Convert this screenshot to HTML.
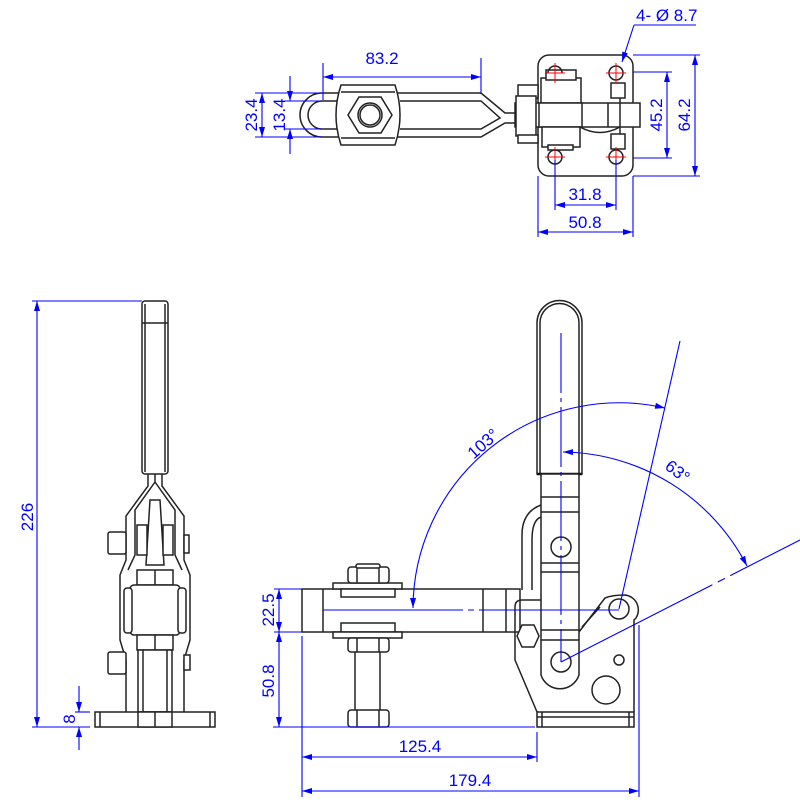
<!DOCTYPE html>
<html><head><meta charset="utf-8"><style>
html,body{margin:0;padding:0;background:#fff}
svg{display:block}
text{font-family:"Liberation Sans",sans-serif;fill:#0000ff;font-size:17px}
.k{fill:none;stroke:#222;stroke-width:1.5}
.kw{fill:#fff;stroke:#222;stroke-width:1.5}
.b{fill:none;stroke:#0000ff;stroke-width:1.1}
.r{stroke:#ff0000;stroke-width:1;fill:none}
</style></head><body>
<svg width="800" height="800" viewBox="0 0 800 800" xmlns="http://www.w3.org/2000/svg">
<defs>
<marker id="a" viewBox="0 0 10 6" refX="10" refY="3" markerWidth="10" markerHeight="6" orient="auto-start-reverse" markerUnits="userSpaceOnUse"><path d="M0,0 L10,3 L0,6z" fill="#0000ff"/></marker>
</defs>

<!-- ===== TOP VIEW ===== -->
<!-- handle bar -->
<path class="k" d="M322,93 L481,93 L505,113 L520,113 L520,123 L505,123 L481,137 L322,137 A22,22 0 0 1 322,93 Z"/>
<path class="k" d="M322,101 L340,101 M322,129 L340,129 M322,101 A14,14 0 0 0 322,129"/>
<path class="k" d="M400,101 L481,101 L500,118 L481,129 L400,129"/>
<!-- nut block -->
<path class="kw" d="M341,85 L395,85 Q405,115 395,145 L341,145 Q331,115 341,85 Z"/>
<line class="k" x1="341" y1="92" x2="395" y2="92"/><line class="k" x1="341" y1="138" x2="395" y2="138"/>
<polygon class="kw" points="359,97 381,97 392,115 381,133 359,133 348,115"/>
<circle class="k" cx="370" cy="115" r="12"/><circle class="k" cx="370" cy="115" r="10"/>
<!-- plate -->
<rect class="kw" x="538" y="55" width="95" height="121" rx="11"/>
<!-- bar through -->
<rect class="kw" x="515" y="103" width="125" height="24"/>
<rect class="kw" x="518" y="85" width="20" height="13"/>
<rect class="kw" x="516" y="96" width="20" height="40"/>
<rect class="kw" x="518" y="135" width="20" height="8"/>
<rect class="kw" x="541" y="78" width="40" height="25"/>
<rect class="kw" x="546" y="70" width="30" height="10"/>
<rect class="kw" x="539" y="103" width="43" height="24"/>
<rect class="kw" x="542" y="127" width="38" height="20"/>
<rect class="kw" x="548" y="145" width="25" height="5"/>
<path class="k" d="M580,127 Q600,138 620,127"/>
<line class="k" x1="608" y1="103" x2="608" y2="127"/><line class="k" x1="620" y1="97" x2="620" y2="134"/>
<rect class="kw" x="611" y="83" width="14" height="15"/><rect class="kw" x="611" y="134" width="14" height="15"/>
<!-- holes -->
<g class="k"><path d="M548,73 A7,7 0 0 1 562,73"/><path d="M548,157 A7,7 0 0 0 562,157 A7,7 0 0 0 548,157"/><circle cx="616" cy="73" r="7"/><circle cx="616" cy="157" r="7"/></g>
<g class="r"><path d="M545,73h20M555,63v20M606,73h20M616,63v20M545,157h20M555,147v20M606,157h20M616,147v20"/></g>

<!-- top view dims -->
<g class="b">
<line x1="323" y1="63" x2="323" y2="100"/><line x1="481" y1="58" x2="481" y2="94"/>
<line x1="323" y1="77" x2="481" y2="77" marker-start="url(#a)" marker-end="url(#a)"/>
<line x1="255" y1="93" x2="322" y2="93"/><line x1="255" y1="137" x2="322" y2="137"/>
<line x1="262" y1="93" x2="262" y2="137" marker-start="url(#a)" marker-end="url(#a)"/>
<line x1="285" y1="101" x2="322" y2="101"/><line x1="285" y1="129" x2="322" y2="129"/>
<line x1="290" y1="76" x2="290" y2="101" marker-end="url(#a)"/><line x1="290" y1="154" x2="290" y2="129" marker-end="url(#a)"/>
<line x1="633" y1="55" x2="700" y2="55"/><line x1="633" y1="176" x2="700" y2="176"/>
<line x1="695" y1="55" x2="695" y2="176" marker-start="url(#a)" marker-end="url(#a)"/>
<line x1="633" y1="72" x2="672" y2="72"/><line x1="633" y1="158" x2="672" y2="158"/>
<line x1="667" y1="72" x2="667" y2="158" marker-start="url(#a)" marker-end="url(#a)"/>
<line x1="555" y1="160" x2="555" y2="210"/><line x1="616" y1="160" x2="616" y2="210"/>
<line x1="555" y1="205" x2="616" y2="205" marker-start="url(#a)" marker-end="url(#a)"/>
<line x1="538" y1="176" x2="538" y2="237"/><line x1="633" y1="176" x2="633" y2="237"/>
<line x1="538" y1="232" x2="633" y2="232" marker-start="url(#a)" marker-end="url(#a)"/>
<line x1="634" y1="25" x2="696" y2="25"/>
<line x1="634" y1="25" x2="622" y2="62" marker-end="url(#a)"/>
</g>
<text x="382" y="64" text-anchor="middle">83.2</text>
<text transform="translate(257,115) rotate(-90)" text-anchor="middle">23.4</text>
<text transform="translate(285,115) rotate(-90)" text-anchor="middle">13.4</text>
<text transform="translate(690,115) rotate(-90)" text-anchor="middle">64.2</text>
<text transform="translate(662,115) rotate(-90)" text-anchor="middle">45.2</text>
<text x="585" y="200" text-anchor="middle">31.8</text>
<text x="585" y="228" text-anchor="middle">50.8</text>
<text x="636" y="21">4- Ø 8.7</text>

<!-- ===== SIDE VIEW ===== -->
<rect class="kw" x="142" y="301" width="26" height="173" rx="3"/>
<line class="k" x1="142" y1="323" x2="168" y2="323"/>
<line class="k" x1="145" y1="304" x2="145" y2="472"/><line class="k" x1="165" y1="304" x2="165" y2="472"/>
<path class="k" d="M148,474 L148,486 L126,516 L126,560 L120,575 L120,640 L126,660 L126,712 M162,474 L162,486 L184,516 L184,560 L190,575 L190,640 L184,660 L184,712"/>
<path class="k" d="M155,474 L155,482 L135,510 L135,555 L128,570 M155,482 L175,510 L175,555 L182,570"/>
<polygon class="kw" points="150,500 160,500 164,565 146,565"/>
<rect class="kw" x="137" y="525" width="10" height="30"/><rect class="kw" x="163" y="525" width="10" height="30"/>
<rect class="kw" x="108" y="532" width="18" height="22" rx="2"/><rect class="kw" x="184" y="535" width="5" height="18"/>
<rect class="kw" x="137" y="570" width="36" height="15"/><line class="k" x1="155" y1="570" x2="155" y2="585"/>
<rect class="kw" x="130" y="585" width="50" height="50" rx="4"/>
<rect class="kw" x="124" y="588" width="8" height="45" rx="3"/><rect class="kw" x="178" y="588" width="8" height="45" rx="3"/>
<rect class="kw" x="137" y="635" width="36" height="15"/><line class="k" x1="155" y1="635" x2="155" y2="650"/>
<rect class="kw" x="108" y="652" width="18" height="22" rx="2"/><rect class="kw" x="184" y="655" width="6" height="15"/>
<rect class="kw" x="138" y="650" width="34" height="62"/>
<line class="k" x1="143" y1="650" x2="143" y2="712"/><line class="k" x1="167" y1="650" x2="167" y2="712"/>
<rect class="kw" x="95" y="712" width="120" height="15"/>
<line class="k" x1="100" y1="712" x2="100" y2="727"/><line class="k" x1="210" y1="712" x2="210" y2="727"/>
<rect class="kw" x="138" y="712" width="34" height="15"/><line class="k" x1="155" y1="712" x2="155" y2="727"/>
<g class="b">
<line x1="32" y1="301" x2="142" y2="301"/><line x1="32" y1="727" x2="90" y2="727"/>
<line x1="37" y1="301" x2="37" y2="727" marker-start="url(#a)" marker-end="url(#a)"/>
<line x1="75" y1="712" x2="90" y2="712"/>
<line x1="79" y1="686" x2="79" y2="712" marker-end="url(#a)"/><line x1="79" y1="750" x2="79" y2="727" marker-end="url(#a)"/>
</g>
<text transform="translate(33,517) rotate(-90)" text-anchor="middle">226</text>
<text transform="translate(75,719) rotate(-90)" text-anchor="middle">8</text>

<!-- ===== FRONT VIEW ===== -->
<!-- handle -->
<path class="kw" d="M537,474 L537,323 A22.5,22.5 0 0 1 582,323 L582,474 Z"/>
<path class="k" d="M540,474 L540,323 A19.5,19.5 0 0 1 579,323 L579,474"/>
<line x1="537" y1="474" x2="582" y2="474" stroke="#111" stroke-width="2.5"/>
<!-- link bracket -->
<path class="k" d="M541,505 Q522,512 522,535 L522,590 M541,517 Q532,520 532,540 L532,590"/>
<!-- body -->
<path class="kw" d="M541,474 L541,675 A20,20 0 0 0 579,675 L579,474 Z"/>
<line class="k" x1="541" y1="497" x2="579" y2="497"/><line class="k" x1="541" y1="512" x2="579" y2="512"/>
<line class="k" x1="541" y1="563" x2="579" y2="563"/><line class="k" x1="541" y1="572" x2="579" y2="572"/>
<line class="k" x1="541" y1="630" x2="579" y2="630"/><line class="k" x1="541" y1="640" x2="579" y2="640"/>
<!-- arm -->
<rect class="kw" x="302" y="589" width="218" height="43"/>
<line class="k" x1="323" y1="589" x2="323" y2="632"/><line class="k" x1="483" y1="589" x2="483" y2="632"/><line class="k" x1="506" y1="589" x2="506" y2="632"/>
<!-- spindle -->
<rect class="kw" x="355" y="650" width="25" height="62"/>
<rect class="kw" x="333" y="583" width="69" height="6"/><rect class="kw" x="341" y="589" width="54" height="8"/>
<rect class="kw" x="348" y="567" width="41" height="16" rx="3"/><line class="k" x1="357" y1="567" x2="357" y2="583"/><line class="k" x1="379" y1="567" x2="379" y2="583"/>
<rect class="kw" x="356" y="564" width="24" height="4" rx="2"/>
<rect class="kw" x="341" y="623" width="54" height="9"/><rect class="kw" x="333" y="632" width="69" height="6"/>
<rect class="kw" x="348" y="638" width="41" height="14" rx="3"/><line class="k" x1="357" y1="638" x2="357" y2="652"/><line class="k" x1="379" y1="638" x2="379" y2="652"/>
<rect class="kw" x="348" y="710" width="41" height="17" rx="3"/><line class="k" x1="357" y1="710" x2="357" y2="727"/><line class="k" x1="379" y1="710" x2="379" y2="727"/>
<!-- base side plate -->
<path class="k" d="M541,600 L522,600 Q515,600 515,607 L515,660 L537,712"/>
<path class="k" d="M579,632 L605,598 Q612,595 625,595 A15,15 0 0 1 636,618 L634,620 L634,712"/>
<path class="k" d="M582,627 L600,607"/>
<polygon class="kw" points="522,625 534,625 539,636 534,647 522,647 517,636"/>
<circle class="kw" cx="561" cy="547" r="10"/>
<circle class="kw" cx="561" cy="662" r="10"/>
<circle class="kw" cx="619" cy="609" r="10"/>
<circle class="k" cx="606" cy="690" r="14"/>
<circle class="k" cx="619" cy="660" r="5"/>
<rect class="kw" x="537" y="712" width="97" height="15"/>
<line class="k" x1="542" y1="712" x2="542" y2="727"/><line class="k" x1="629" y1="712" x2="629" y2="727"/><line class="k" x1="537" y1="717" x2="634" y2="717"/>

<!-- front dims -->
<g class="b">
<line x1="561" y1="333" x2="561" y2="662" stroke-dasharray="60,5,4,5"/>
<line x1="323" y1="610" x2="619" y2="610" stroke-dasharray="140,5,6,5"/>
<line x1="619" y1="609" x2="680" y2="341"/>
<line x1="561" y1="662" x2="800" y2="540" stroke-dasharray="170,6,8,6"/>
<path d="M413,608 A206,206 0 0 1 665,408" marker-start="url(#a)" marker-end="url(#a)"/>
<path d="M563,452 A210,210 0 0 1 747,566" marker-start="url(#a)" marker-end="url(#a)"/>
<line x1="274" y1="589" x2="302" y2="589"/><line x1="274" y1="632" x2="302" y2="632"/>
<line x1="273" y1="727" x2="535" y2="727"/>
<line x1="279" y1="589" x2="279" y2="632" marker-start="url(#a)" marker-end="url(#a)"/>
<line x1="279" y1="632" x2="279" y2="727" marker-start="url(#a)" marker-end="url(#a)"/>
<line x1="302" y1="636" x2="302" y2="797"/>
<line x1="537" y1="732" x2="537" y2="762"/>
<line x1="639" y1="625" x2="639" y2="797"/>
<line x1="302" y1="757" x2="537" y2="757" marker-start="url(#a)" marker-end="url(#a)"/>
<line x1="302" y1="791" x2="639" y2="791" marker-start="url(#a)" marker-end="url(#a)"/>
</g>
<text transform="translate(274,610) rotate(-90)" text-anchor="middle">22.5</text>
<text transform="translate(274,681) rotate(-90)" text-anchor="middle">50.8</text>
<text x="420" y="752" text-anchor="middle">125.4</text>
<text x="470" y="786" text-anchor="middle">179.4</text>
<text transform="translate(487,448) rotate(-42)" text-anchor="middle">103°</text>
<text transform="translate(674,476) rotate(38)" text-anchor="middle">63°</text>
</svg>
</body></html>
